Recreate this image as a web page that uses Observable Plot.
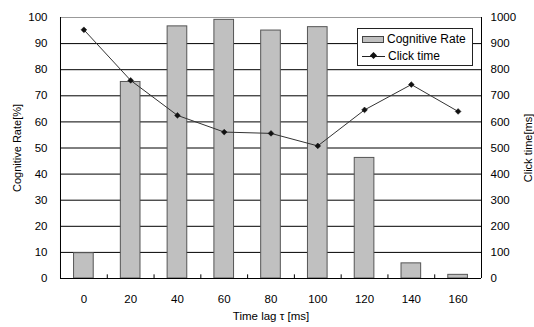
<!DOCTYPE html>
<html>
<head>
<meta charset="utf-8">
<script src="https://cdn.jsdelivr.net/npm/d3@7"></script>
<script src="https://cdn.jsdelivr.net/npm/@observablehq/plot@0.6"></script>
<style>
  html, body { margin: 0; padding: 0; background: #fff; }
  #wrap { position: relative; width: 534px; height: 327px; font-family: "Liberation Sans", Arial, sans-serif; }
  #legend { position: absolute; left: 357px; top: 28px; width: 116px; height: 38px; border: 1px solid #222; background: #fff; font-size: 12px; color: #000; box-sizing: border-box; }
  .row { position: absolute; left: 4px; height: 14px; display: flex; align-items: center; }
  .sw { width: 22px; height: 7px; background: #c0c0c0; border: 1px solid #444; box-sizing: border-box; margin-right: 3px; }
  .ln { position: relative; width: 23px; height: 1px; background: #222; margin-right: 3px; }
  .ln::after { content: ""; position: absolute; left: 9px; top: -2.5px; width: 5px; height: 5px; background: #111; transform: rotate(45deg); }
</style>
</head>
<body>
<div id="wrap">
  <div id="chart"></div>
  <div id="legend">
    <div class="row" style="top:3px"><div class="sw"></div><span>Cognitive Rate</span></div>
    <div class="row" style="top:20px"><div class="ln"></div><span>Click time</span></div>
  </div>
</div>
<script>
const timeLag = [0, 20, 40, 60, 80, 100, 120, 140, 160];
const cognitiveRate = [9.7, 75.3, 96.6, 99.1, 95.0, 96.3, 46.2, 5.8, 1.4];
const clickTime = [953, 759, 625, 561, 556, 508, 646, 743, 640];
const leftTicks = [0, 10, 20, 30, 40, 50, 60, 70, 80, 90, 100];
const rightTicks = [0, 100, 200, 300, 400, 500, 600, 700, 800, 900, 1000];
const gridLines = [10, 20, 30, 40, 50, 60, 70, 80, 90];

const data = timeLag.map((t, i) => ({t, rate: cognitiveRate[i], click: clickTime[i]}));

const W = 534, H = 327;
const mL = 60, mR = 53, mT = 17, mB = 49;
const step = (W - mL - mR) / timeLag.length;

const chart = Plot.plot({
  width: W,
  height: H,
  marginLeft: mL,
  marginRight: mR,
  marginTop: mT,
  marginBottom: mB,
  style: {fontFamily: "Liberation Sans, Arial, sans-serif", fontSize: "11.5px", color: "#000", background: "#fff"},
  x: {type: "band", domain: timeLag, paddingInner: 0.58, paddingOuter: 0.29, round: false, label: null},
  y: {domain: [0, 100], label: null},
  marks: [
    Plot.ruleY(gridLines, {stroke: "#000", strokeWidth: 1, strokeOpacity: 1}),
    Plot.ruleY([100], {stroke: "#999", strokeWidth: 1}),
    Plot.barY(data, {x: "t", y: "rate", fill: "#c0c0c0", stroke: "#555", strokeWidth: 1}),
    Plot.ruleX(timeLag.slice(1), {x: d => d, y1: 0, y2: 1.4, dx: -step / 2, stroke: "#000"}),
    Plot.ruleY([0], {stroke: "#000", strokeWidth: 1}),
    Plot.ruleX([timeLag[0]], {x: d => d, y1: 0, y2: 100, dx: -step / 2, stroke: "#000"}),
    Plot.ruleX([timeLag[timeLag.length - 1]], {x: d => d, y1: 0, y2: 100, dx: step / 2, stroke: "#000"}),
    Plot.line(data, {x: "t", y: d => d.click / 10, stroke: "#333", strokeWidth: 1}),
    Plot.dot(data, {x: "t", y: d => d.click / 10, symbol: "diamond2", r: 2.6, fill: "#111", stroke: "#111", strokeWidth: 0.5}),
    Plot.axisX(timeLag, {tickSize: 0, tickPadding: 16, label: null, fontSize: "11.5px"}),
    Plot.axisY(leftTicks, {anchor: "left", tickSize: 0, tickPadding: 13, label: null}),
    Plot.axisY(rightTicks.map(v => v / 10), {anchor: "right", tickSize: 0, tickPadding: 9, tickFormat: d => String(Math.round(d * 10)), textAnchor: "start", label: null}),
    Plot.text(["Time lag τ [ms]"], {frameAnchor: "bottom", dy: 41, fontSize: "11.5px"}),
    Plot.text(["Cognitive Rate[%]"], {frameAnchor: "left", dx: -43, rotate: -90, textAnchor: "middle", fontSize: "11px"}),
    Plot.text(["Click time[ms]"], {frameAnchor: "right", dx: 47, rotate: -90, textAnchor: "middle", fontSize: "11px"})
  ]
});
document.getElementById("chart").appendChild(chart);
</script>
</body>
</html>
